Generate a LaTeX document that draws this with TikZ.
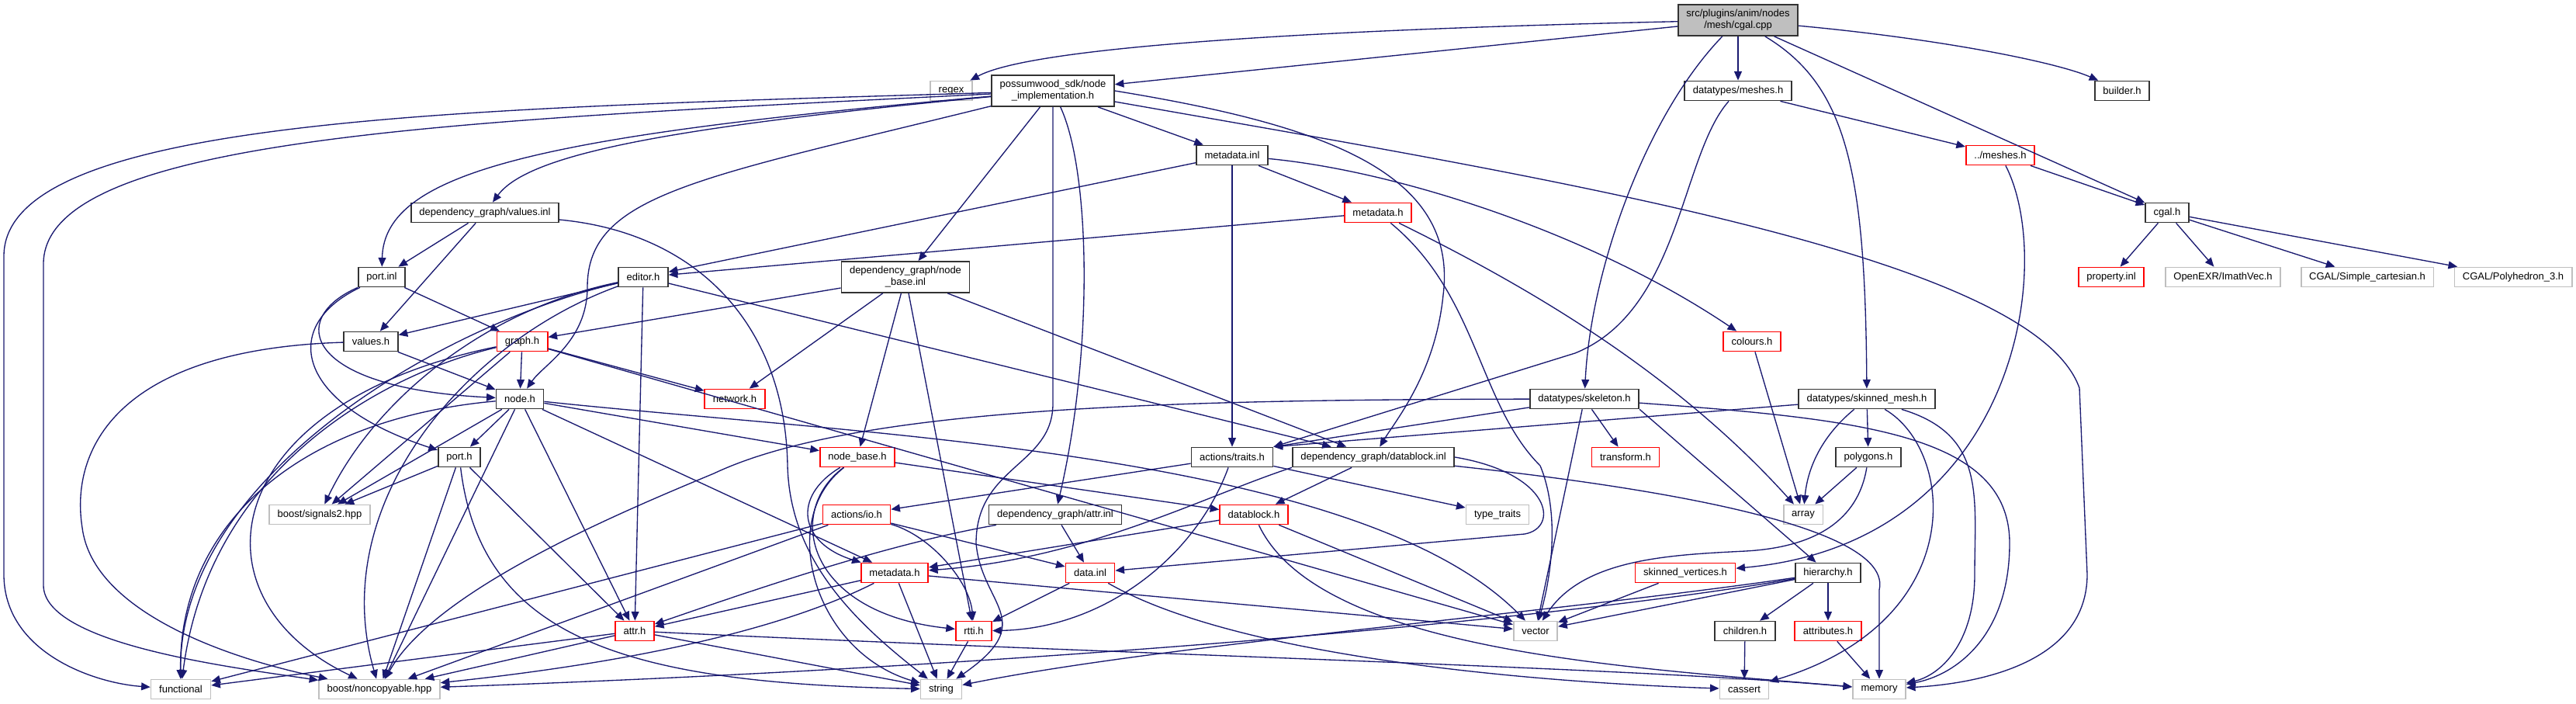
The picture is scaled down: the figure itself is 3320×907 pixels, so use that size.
\documentclass[tikz,border=0pt]{standalone}
\usepackage{fontspec}
\setmainfont{Liberation Sans}
\usepackage{xcolor}
\usepackage{tikz}
\usetikzlibrary{arrows.meta}
\definecolor{cEdge}{HTML}{191970}
\definecolor{cFrame}{HTML}{333333}
\definecolor{cRed}{HTML}{FF0000}
\definecolor{cSys}{HTML}{BFBFBF}
\definecolor{cRoot}{HTML}{BFBFBF}
\newcommand{\dgfont}{\fontsize{3.7pt}{4.3pt}\selectfont}
\tikzset{
  hdr/.style={draw=#1,fill=white,line width=0.5pt,font=\dgfont,align=center,inner xsep=3pt,inner ysep=1.2pt,minimum height=0.25cm,text=black},
  hdr/.default=cFrame,
  hred/.style={hdr=cRed},
  hsys/.style={hdr=cSys},
  hroot/.style={hdr=cFrame,fill=cRoot},
  tall/.style={minimum height=0.4cm},
  arr/.style={-{Triangle[length=3.3pt,width=2.8pt]},line width=0.38pt,color=cEdge},
}

\begin{document}
\begin{tikzpicture}[x=0.01cm,y=-0.01cm]
  \useasboundingbox[fill=white] (0,0) rectangle (3320,907);
  % headers, rank by rank
  \node[hroot,tall] (cpp) at (2240,26) {src/plugins/anim/nodes\\/mesh/cgal.cpp};
  \node[hsys] (regex) at (1226,117) {regex};
  \node[hdr,tall] (impl) at (1357,117) {possumwood\_sdk/node\\\_implementation.h};
  \node[hdr] (meshes) at (2240,117) {datatypes/meshes.h};
  \node[hdr] (builder) at (2735,117) {builder.h};
  \node[hdr] (mdinl) at (1588,200) {metadata.inl};
  \node[hred] (dmeshes) at (2578,200) {../meshes.h};
  \node[hdr] (valinl) at (625,274) {dependency\_graph/values.inl};
  \node[hred] (mdh) at (1776,274) {metadata.h};
  \node[hdr] (cgalh) at (2793,274) {cgal.h};
  \node[hdr] (portinl) at (492,357) {port.inl};
  \node[hdr] (editor) at (829,357) {editor.h};
  \node[hdr,tall] (nbinl) at (1167,357) {dependency\_graph/node\\\_base.inl};
  \node[hred] (prop) at (2721,357) {property.inl};
  \node[hsys] (imath) at (2865,357) {OpenEXR/ImathVec.h};
  \node[hsys] (simple) at (3051,357) {CGAL/Simple\_cartesian.h};
  \node[hsys] (poly) at (3239,357) {CGAL/Polyhedron\_3.h};
  \node[hdr] (valh) at (478,440) {values.h};
  \node[hred] (graph) at (673,440) {graph.h};
  \node[hred] (colours) at (2258,440) {colours.h};
  \node[hdr] (nodeh) at (670,514) {node.h};
  \node[hred] (network) at (947,514) {network.h};
  \node[hdr] (skel) at (2042,514) {datatypes/skeleton.h};
  \node[hdr] (skin) at (2406,514) {datatypes/skinned\_mesh.h};
  \node[hdr] (porth) at (592,589) {port.h};
  \node[hred] (nbh) at (1105,589) {node\_base.h};
  \node[hdr] (traits) at (1588,589) {actions/traits.h};
  \node[hdr] (dbinl) at (1770,589) {dependency\_graph/datablock.inl};
  \node[hred] (transform) at (2095,589) {transform.h};
  \node[hdr] (polygons) at (2408,589) {polygons.h};
  \node[hsys] (sig) at (412,663) {boost/signals2.hpp};
  \node[hred] (io) at (1104,663) {actions/io.h};
  \node[hdr] (attrinl) at (1360,663) {dependency\_graph/attr.inl};
  \node[hred] (dbh) at (1616,663) {datablock.h};
  \node[hsys] (tt) at (1930,663) {type\_traits};
  \node[hsys] (array) at (2324,663) {array};
  \node[hred] (mdh2) at (1153,738) {metadata.h};
  \node[hred] (datainl) at (1405,738) {data.inl};
  \node[hred] (skv) at (2172,738) {skinned\_vertices.h};
  \node[hdr] (hier) at (2356,738) {hierarchy.h};
  \node[hred] (attrh) at (818,813) {attr.h};
  \node[hred] (rtti) at (1255,813) {rtti.h};
  \node[hsys] (vector) at (1979,813) {vector};
  \node[hdr] (children) at (2249,813) {children.h};
  \node[hred] (attributes) at (2356,813) {attributes.h};
  \node[hsys] (functional) at (233,888) {functional};
  \node[hsys] (noncopy) at (489,888) {boost/noncopyable.hpp};
  \node[hsys] (string) at (1213,888) {string};
  \node[hsys] (cassert) at (2248,888) {cassert};
  \node[hsys] (memory) at (2422,888) {memory};

  % cgal.cpp
  \draw[arr] (cpp) .. controls (1700,38) and (1330,60) .. (regex);
  \draw[arr] (cpp) -- (impl);
  \draw[arr] (cpp) -- (meshes);
  \draw[arr] (cpp) .. controls (2500,50) and (2650,80) .. (builder);
  \draw[arr] (cpp) -- (cgalh);
  \draw[arr] (cpp) .. controls (2120,150) and (2050,350) .. (skel);
  \draw[arr] (cpp) .. controls (2380,110) and (2404,220) .. (skin);
  % node_implementation.h
  \draw[arr] (impl) .. controls (600,140) and (5,150) .. (5,330) -- (5,740) .. controls (5,840) and (120,880) .. (functional);
  \draw[arr] (impl) .. controls (600,155) and (56,175) .. (56,340) -- (56,754) .. controls (56,830) and (300,860) .. (noncopy);
  \draw[arr] (impl) .. controls (850,165) and (680,200) .. (valinl);
  \draw[arr] (impl) .. controls (700,175) and (495,220) .. (portinl);
  \draw[arr] (impl) .. controls (900,230) and (757,250) .. (757,370) .. controls (757,440) and (700,470) .. (nodeh);
  \draw[arr] (impl) -- (nbinl);
  \draw[arr] (impl) -- (mdinl);
  \draw[arr] (impl.south) -- (1357,520) .. controls (1357,600) and (1258,600) .. (1258,700) .. controls (1265,780) and (1340,800) .. (string);
  \draw[arr] (impl) .. controls (1405,220) and (1410,450) .. (attrinl);
  \draw[arr] (impl) .. controls (2000,230) and (2620,330) .. (2680,500) -- (2690,740) .. controls (2690,850) and (2560,880) .. (memory);
  \draw[arr] (impl.east) .. controls (1700,160) and (1880,220) .. (1860,380) .. controls (1850,480) and (1800,540) .. (dbinl);
  % datatypes
  \draw[arr] (meshes) -- (dmeshes);
  \draw[arr] (meshes) .. controls (2166,200) and (2166,400) .. (2030,455) -- (traits.north east);
  \draw[arr] (dmeshes) -- (cgalh);
  \draw[arr] (dmeshes) .. controls (2650,340) and (2600,700) .. (skv);
  \draw[arr] (cgalh) -- (prop);
  \draw[arr] (cgalh) -- (imath);
  \draw[arr] (cgalh) -- (simple);
  \draw[arr] (cgalh) -- (poly);
  % metadata
  \draw[arr] (mdinl) -- (editor);
  \draw[arr] (mdinl) -- (mdh);
  \draw[arr] (mdinl) .. controls (1800,220) and (2050,300) .. (colours);
  \draw[arr] (mdinl) -- (traits);
  \draw[arr] (mdh) -- (editor);
  \draw[arr] (mdh) .. controls (1950,360) and (2150,470) .. (array);
  \draw[arr] (mdh) .. controls (1905,380) and (1905,520) .. (1985,600) .. controls (2010,660) and (2000,740) .. (vector);
  \draw[arr] (colours) -- (array);
  % values, ports, editor
  \draw[arr] (valinl) -- (portinl);
  \draw[arr] (valinl) -- (valh);
  \draw[arr] (valinl) .. controls (900,300) and (1012,420) .. (1015,600) .. controls (1018,720) and (1100,800) .. (string);
  \draw[arr] (portinl) .. controls (370,410) and (390,500) .. (nodeh);
  \draw[arr] (portinl) .. controls (360,420) and (380,520) .. (porth);
  \draw[arr] (portinl) -- (graph);
  \draw[arr] (editor) -- (valh);
  \draw[arr] (editor) .. controls (620,400) and (480,520) .. (sig);
  \draw[arr] (editor) .. controls (560,420) and (230,620) .. (functional);
  \draw[arr] (editor) .. controls (600,440) and (420,650) .. (noncopy);
  \draw[arr] (editor) -- (attrh);
  \draw[arr] (editor) -- (dbinl);
  \draw[arr] (valh) -- (nodeh);
  \draw[arr] (valh) .. controls (150,450) and (90,580) .. (106,680) .. controls (120,790) and (300,850) .. (noncopy);
  % graph, node, port
  \draw[arr] (graph) -- (nodeh);
  \draw[arr] (graph) -- (network);
  \draw[arr] (graph) -- (sig);
  \draw[arr] (graph) .. controls (500,480) and (270,600) .. (functional);
  \draw[arr] (graph) .. controls (280,520) and (240,770) .. (noncopy);
  \draw[arr] (graph) -- (vector);
  \draw[arr] (nodeh) .. controls (380,540) and (230,680) .. (functional);
  \draw[arr] (nodeh) -- (sig);
  \draw[arr] (nodeh) -- (porth);
  \draw[arr] (nodeh) -- (noncopy);
  \draw[arr] (nodeh) -- (attrh);
  \draw[arr] (nodeh) -- (mdh2);
  \draw[arr] (nodeh) -- (nbh);
  \draw[arr] (nodeh) .. controls (1100,560) and (1750,580) .. (vector);
  \draw[arr] (porth) -- (sig);
  \draw[arr] (porth) -- (noncopy);
  \draw[arr] (porth) -- (attrh);
  \draw[arr] (porth) .. controls (620,820) and (800,880) .. (string);
  % node_base
  \draw[arr] (nbinl) -- (graph);
  \draw[arr] (nbinl) -- (network);
  \draw[arr] (nbinl) -- (nbh);
  \draw[arr] (nbinl) -- (rtti);
  \draw[arr] (nbinl) -- (dbinl);
  \draw[arr] (nbh) .. controls (1020,640) and (1030,700) .. (mdh2);
  \draw[arr] (nbh) .. controls (1010,660) and (1040,790) .. (rtti);
  \draw[arr] (nbh) .. controls (1000,670) and (1050,840) .. (string);
  \draw[arr] (nbh) -- (dbh);
  % actions, attr, datablock
  \draw[arr] (io) -- (functional);
  \draw[arr] (io) -- (noncopy);
  \draw[arr] (io) .. controls (1200,690) and (1250,750) .. (rtti);
  \draw[arr] (io) -- (datainl);
  \draw[arr] (attrinl) .. controls (1150,700) and (1000,750) .. (attrh);
  \draw[arr] (attrinl) -- (datainl);
  \draw[arr] (traits) -- (io);
  \draw[arr] (traits) .. controls (1540,720) and (1420,810) .. (rtti);
  \draw[arr] (traits) -- (tt);
  \draw[arr] (dbinl) -- (dbh);
  \draw[arr] (dbinl.south west) .. controls (1550,640) and (1400,720) .. (mdh2);
  \draw[arr] (dbinl.east) .. controls (2000,610) and (2010,680) .. (1965,688) -- (datainl);
  \draw[arr] (dbinl) .. controls (2150,630) and (2440,680) .. (2422,760) -- (memory);
  \draw[arr] (dbh) -- (mdh2);
  \draw[arr] (dbh) -- (vector);
  \draw[arr] (dbh) .. controls (1700,840) and (2100,860) .. (memory);
  \draw[arr] (datainl) -- (rtti);
  \draw[arr] (datainl) .. controls (1600,850) and (2000,880) .. (cassert);
  \draw[arr] (mdh2) -- (attrh);
  \draw[arr] (mdh2) .. controls (1000,815) and (800,855) .. (noncopy);
  \draw[arr] (mdh2) -- (string);
  \draw[arr] (mdh2) -- (vector);
  \draw[arr] (attrh) -- (functional);
  \draw[arr] (attrh) -- (noncopy);
  \draw[arr] (attrh) -- (string);
  \draw[arr] (attrh) .. controls (1500,845) and (2100,860) .. (memory);
  \draw[arr] (rtti) -- (string);
  % skeleton, skinned mesh
  \draw[arr] (skel) -- (traits.north east);
  \draw[arr] (skel) -- (transform);
  \draw[arr] (skel.south east) -- (hier);
  \draw[arr] (skel) -- (vector);
  \draw[arr] (skel) .. controls (1500,515) and (1100,525) .. (920,610) .. controls (800,660) and (560,760) .. (noncopy);
  \draw[arr] (skel) .. controls (2400,540) and (2590,560) .. (2590,700) .. controls (2590,820) and (2520,870) .. (memory);
  \draw[arr] (skin) -- (traits.north east);
  \draw[arr] (skin) -- (polygons);
  \draw[arr] (skin) .. controls (2350,560) and (2330,600) .. (array);
  \draw[arr] (skin) .. controls (2520,580) and (2540,800) .. (cassert);
  \draw[arr] (skin) .. controls (2560,560) and (2545,640) .. (2545,740) .. controls (2545,830) and (2500,870) .. (memory);
  \draw[arr] (polygons) -- (array);
  \draw[arr] (polygons) .. controls (2395,670) and (2340,705) .. (2250,710) .. controls (2150,715) and (2040,720) .. (vector);
  \draw[arr] (skv) -- (vector);
  \draw[arr] (hier) -- (vector);
  \draw[arr] (hier) -- (children);
  \draw[arr] (hier) -- (attributes);
  \draw[arr] (hier) .. controls (2000,790) and (1500,830) .. (string);
  \draw[arr] (hier) .. controls (2000,800) and (1300,860) .. (noncopy);
  \draw[arr] (children) -- (cassert);
  \draw[arr] (attributes) -- (memory);
\end{tikzpicture}
\end{document}
